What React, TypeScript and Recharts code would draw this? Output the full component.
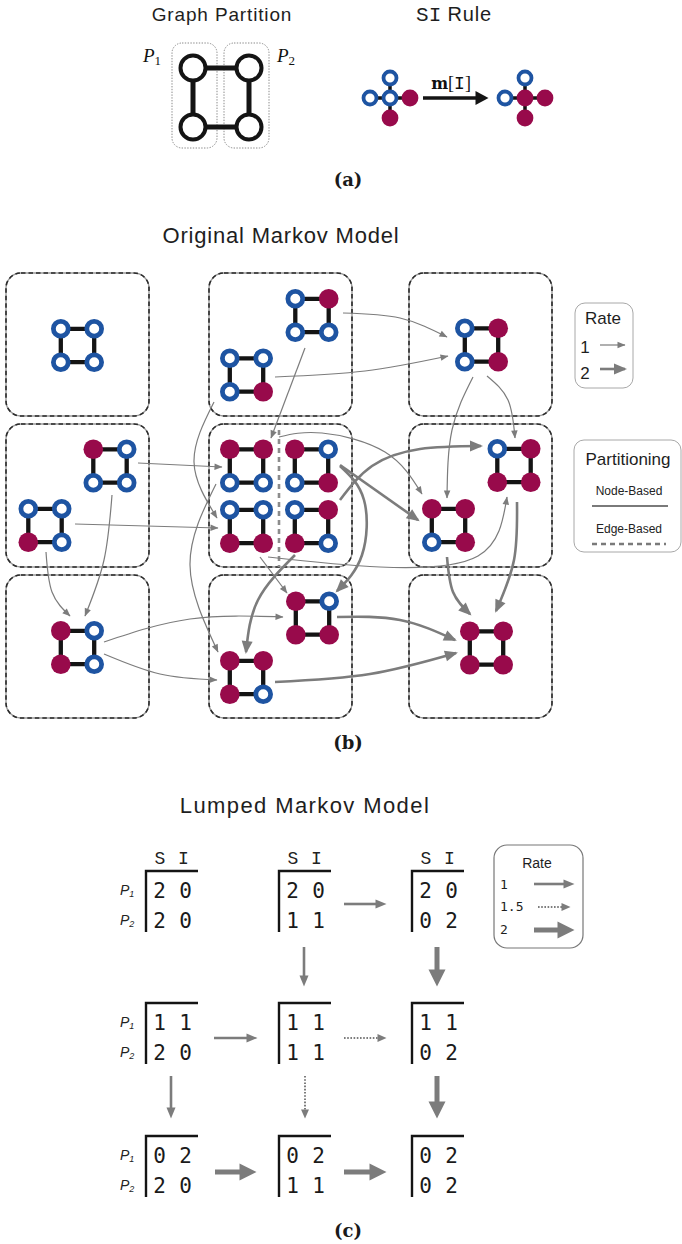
import React from "react";
import {
  ComposedChart,
  Line,
  ReferenceArea,
  ReferenceLine,
  Scatter,
  XAxis,
  YAxis,
} from "recharts";

const W = 682;
const H = 1244;

const BLUE = "#1e54a2";
const MAG = "#980a4b";
const GRAY = "#7c7c7c";
const INK = "#141414";
const SANS = "'Liberation Sans', Arial, sans-serif";
const MONO = "'Liberation Mono', 'Courier New', monospace";
const DIGIT = "'DejaVu Sans Mono', monospace";
const SERIF = "'Liberation Serif', 'Times New Roman', serif";
const BOLDSERIF = "'DejaVu Serif', serif";

// ---------- (a) graph partition and SI rule
const partitionFrames = [
  { x1: 172, x2: 217, y1: 43, y2: 148 },
  { x1: 224, x2: 269, y1: 43, y2: 148 },
];
const partitionGraph = [{ x: 221, y: 97.5 }];
// node order: centre, left, right, top, bottom
const ruleStars = [
  { x: 390, y: 98, s: "SSISI" },
  { x: 525, y: 98, s: "ISISI" },
];
const ruleArrow = [
  [423, 98],
  [476, 98],
];

// ---------- (b) original markov model
const boxCols = [
  [6, 149],
  [209, 352],
  [409, 552],
];
const boxRows = [
  [273, 416],
  [424, 567],
  [575, 718],
];
const edgeDivider = [
  { x: 279, y: 430 },
  { x: 279, y: 567 },
];
// node order: top-left, top-right, bottom-left, bottom-right
const states = [
  { x: 77.5, y: 345.5, s: "SSSS" },
  { x: 312, y: 315.5, s: "SISS" },
  { x: 246.5, y: 375, s: "SSSI" },
  { x: 481.5, y: 345, s: "SISI" },
  { x: 110, y: 466, s: "ISSS" },
  { x: 45, y: 525.5, s: "SSIS" },
  { x: 246.5, y: 466, s: "IISS" },
  { x: 311.5, y: 466, s: "ISSI" },
  { x: 246.5, y: 526.5, s: "SSII" },
  { x: 311.5, y: 526.5, s: "SIIS" },
  { x: 514, y: 465.5, s: "SIII" },
  { x: 448.5, y: 525.5, s: "IISI" },
  { x: 77.5, y: 647.5, s: "ISIS" },
  { x: 312.5, y: 618, s: "ISII" },
  { x: 246.5, y: 677.5, s: "IIIS" },
  { x: 486.5, y: 648, s: "IIII" },
];
// rate 1 or 2
const transitions = [
  { r: 1, pts: [[343, 313], [400, 318], [447, 337]] },
  { r: 1, pts: [[275, 377], [365, 371], [448, 356]] },
  { r: 1, pts: [[305, 348], [271, 438]] },
  { r: 1, pts: [[214, 402], [194, 462], [217, 518]] },
  { r: 1, pts: [[216, 484], [190, 565], [218, 652]] },
  { r: 1, pts: [[279, 437], [322, 433], [385, 452], [422, 494]] },
  { r: 1, pts: [[138, 463], [222, 467]] },
  { r: 1, pts: [[75, 524], [218, 528]] },
  { r: 1, pts: [[112, 495], [104, 560], [85, 616]] },
  { r: 1, pts: [[46, 552], [52, 592], [70, 616]] },
  { r: 1, pts: [[104, 642], [190, 619], [283, 617]] },
  { r: 1, pts: [[104, 654], [160, 674], [217, 680]] },
  { r: 2, pts: [[337, 617], [400, 620], [455, 640]] },
  { r: 2, pts: [[275, 682], [370, 674], [456, 653]] },
  { r: 2, pts: [[447, 557], [453, 592], [470, 614]] },
  { r: 2, pts: [[517, 502], [514, 560], [496, 611]] },
  { r: 1, pts: [[473, 377], [452, 430], [447, 498]] },
  { r: 1, pts: [[487, 376], [508, 400], [515, 438]] },
  { r: 2, pts: [[340, 465], [418, 520]] },
  { r: 2, pts: [[340, 466], [364, 500], [362, 555], [337, 591]] },
  { r: 2, pts: [[340, 500], [372, 466], [420, 449], [481, 446]] },
  { r: 2, pts: [[295, 555], [258, 600], [246, 652]] },
  { r: 1, pts: [[260, 557], [287, 593]] },
  { r: 1, pts: [[268, 557], [380, 567], [478, 556], [507, 497]] },
];
const rateSamplesB = [
  { r: 1, pts: [[600, 345], [625, 345]] },
  { r: 2, pts: [[600, 369], [625, 369]] },
];
const partitionSamples = [
  { kind: "node", pts: [[592, 506], [668, 506]] },
  { kind: "edge", pts: [[592, 544], [666, 544]] },
];

// ---------- (c) lumped markov model
const tableCols = [146, 279, 412];
const tableRows = [871, 1003, 1136];
const lumpedStates = [
  [[2, 0], [2, 0]],
  [[2, 0], [1, 1]],
  [[2, 0], [0, 2]],
  [[1, 1], [2, 0]],
  [[1, 1], [1, 1]],
  [[1, 1], [0, 2]],
  [[0, 2], [2, 0]],
  [[0, 2], [1, 1]],
  [[0, 2], [0, 2]],
];
const lumpedArrows = [
  { r: 1, pts: [[344, 904], [376, 904]] },
  { r: 1, pts: [[304, 947], [304, 976]] },
  { r: 2, pts: [[437, 947], [437, 970]] },
  { r: 1, pts: [[214, 1038], [247, 1038]] },
  { r: 1.5, pts: [[344, 1038], [378, 1038]] },
  { r: 1, pts: [[171, 1076], [171, 1108]] },
  { r: 1.5, pts: [[305, 1076], [305, 1110]] },
  { r: 2, pts: [[437, 1076], [437, 1102]] },
  { r: 2, pts: [[215, 1172], [240, 1172]] },
  { r: 2, pts: [[344, 1172], [370, 1172]] },
];
const rateSamplesC = [
  { r: 1, pts: [[534, 884], [564, 884]] },
  { r: 1.5, pts: [[538, 907], [562, 907]] },
  { r: 2, pts: [[534, 930], [558, 930]] },
];

const legendFrames = [
  { x1: 575, x2: 633, y1: 303, y2: 388, k: "b" },
  { x1: 574, x2: 681, y1: 440, y2: 552, k: "b" },
  { x1: 494, x2: 583, y1: 845, y2: 948, k: "c" },
];

const labels = [
  { x: 222, y: 21, t: "Graph Partition", k: "titleA" },
  { x: 454, y: 21, t: "SI Rule", k: "rule" },
  { x: 143, y: 62, t: "1", k: "pA" },
  { x: 277, y: 62, t: "2", k: "pA" },
  { x: 451, y: 89, t: "m[I]", k: "mI" },
  { x: 348, y: 186, t: "(a)", k: "panel" },
  { x: 281, y: 243, t: "Original Markov Model", k: "titleB" },
  { x: 603, y: 324, t: "Rate", k: "leg" },
  { x: 585, y: 353, t: "1", k: "legNum" },
  { x: 585, y: 379, t: "2", k: "legNum" },
  { x: 628, y: 465, t: "Partitioning", k: "leg" },
  { x: 629, y: 495, t: "Node-Based", k: "legSmall" },
  { x: 629, y: 533, t: "Edge-Based", k: "legSmall" },
  { x: 348, y: 749, t: "(b)", k: "panel" },
  { x: 305, y: 813, t: "Lumped Markov Model", k: "titleC" },
  { x: 537, y: 868, t: "Rate", k: "legC" },
  { x: 500, y: 889, t: "1", k: "legCNum" },
  { x: 500, y: 911, t: "1.5", k: "legCNum" },
  { x: 500, y: 934, t: "2", k: "legCNum" },
  { x: 348, y: 1237, t: "(c)", k: "panel" },
];

// ---------- helpers
const heads = [
  { id: "hb1", l: 8, w: 6.5, ref: 7.5, c: GRAY },
  { id: "hb2", l: 13, w: 11, ref: 11, c: GRAY },
  { id: "hc1", l: 11, w: 9, ref: 0.5, c: GRAY },
  { id: "hc15", l: 9, w: 8, ref: 0.5, c: GRAY },
  { id: "hc2", l: 17, w: 17, ref: 0.5, c: GRAY },
  { id: "ha", l: 13, w: 14, ref: 0.5, c: INK },
];

const toPts = (pts: number[][]) => pts.map(([x, y]) => ({ x, y }));

const tableData = lumpedStates.map((rows, i) => ({
  x: tableCols[i % 3],
  y: tableRows[Math.floor(i / 3)],
  rows,
  head: i < 3,
  side: i % 3 === 0,
}));

function Dot({ x, y, inf, r, ring }: any) {
  if (inf) return <circle cx={x} cy={y} r={r} fill={MAG} />;
  return <circle cx={x} cy={y} r={r - ring / 2} fill="#fff" stroke={BLUE} strokeWidth={ring} />;
}

function SquareGlyph(p: any) {
  const { cx, cy, payload } = p;
  const h = 16.7;
  const pos = [
    [-h, -h],
    [h, -h],
    [-h, h],
    [h, h],
  ];
  return (
    <g>
      <path
        d={`M${cx - h},${cy - h}H${cx + h}V${cy + h}H${cx - h}Z`}
        fill="none"
        stroke={INK}
        strokeWidth={4.3}
      />
      {pos.map(([dx, dy], i) => (
        <Dot key={i} x={cx + dx} y={cy + dy} inf={payload.s[i] === "I"} r={9.8} ring={4.8} />
      ))}
    </g>
  );
}

function StarGlyph(p: any) {
  const { cx, cy, payload } = p;
  const d = 20;
  const pos = [
    [0, 0],
    [-d, 0],
    [d, 0],
    [0, -d],
    [0, d],
  ];
  return (
    <g>
      <path
        d={`M${cx - d},${cy}H${cx + d}M${cx},${cy - d}V${cy + d}`}
        stroke={INK}
        strokeWidth={3.5}
      />
      {pos.map(([dx, dy], i) => (
        <Dot key={i} x={cx + dx} y={cy + dy} inf={payload.s[i] === "I"} r={8.4} ring={3.8} />
      ))}
    </g>
  );
}

function PartitionGlyph(p: any) {
  const { cx, cy } = p;
  const hx = 28;
  const hy = 29.5;
  const pos = [
    [-hx, -hy],
    [hx, -hy],
    [-hx, hy],
    [hx, hy],
  ];
  return (
    <g>
      <path
        d={`M${cx - hx},${cy - hy}H${cx + hx}V${cy + hy}H${cx - hx}Z`}
        fill="none"
        stroke={INK}
        strokeWidth={5}
      />
      {pos.map(([dx, dy], i) => (
        <circle key={i} cx={cx + dx} cy={cy + dy} r={12.5} fill="#fff" stroke={INK} strokeWidth={4} />
      ))}
    </g>
  );
}

function TableGlyph(p: any) {
  const { cx, cy, payload } = p;
  const rowY = [19, 49];
  return (
    <g>
      <path d={`M${cx},${cy + 61}V${cy}H${cx + 52}`} fill="none" stroke={INK} strokeWidth={2.4} />
      {payload.head && (
        <g fontFamily={MONO} fontSize={18} fill="#222" textAnchor="middle">
          <text x={cx + 14} y={cy - 7}>S</text>
          <text x={cx + 37.5} y={cy - 7}>I</text>
        </g>
      )}
      {payload.rows.map((row: number[], ri: number) => (
        <g key={ri} fontFamily={DIGIT} fontSize={21} fill="#1a1a1a" textAnchor="middle">
          <text x={cx + 13.5} y={cy + rowY[ri] + 7.5}>{row[0]}</text>
          <text x={cx + 39.5} y={cy + rowY[ri] + 7.5}>{row[1]}</text>
        </g>
      ))}
      {payload.side &&
        rowY.map((ry, ri) => (
          <text key={ri} x={cx - 26} y={cy + ry + 5} fontFamily={SANS} fontStyle="italic" fontSize={14} fill="#222">
            P
            <tspan fontSize={9} dy={2}>
              {ri + 1}
            </tspan>
          </text>
        ))}
    </g>
  );
}

function Label(p: any) {
  const { cx, cy, payload } = p;
  const { t, k } = payload;
  switch (k) {
    case "titleA":
      return (
        <text x={cx} y={cy} textAnchor="middle" fontFamily={SANS} fontSize={19} letterSpacing={0.85} fill="#1e1e1e">
          {t}
        </text>
      );
    case "titleB":
      return (
        <text x={cx} y={cy} textAnchor="middle" fontFamily={SANS} fontSize={22} letterSpacing={0.8} fill="#1e1e1e">
          {t}
        </text>
      );
    case "titleC":
      return (
        <text x={cx} y={cy} textAnchor="middle" fontFamily={SANS} fontSize={22} letterSpacing={1.4} fill="#1e1e1e">
          {t}
        </text>
      );
    case "rule":
      return (
        <text x={cx} y={cy} textAnchor="middle" fontSize={20} fill="#1e1e1e">
          <tspan fontFamily={MONO} fontSize={21}>
            {t.slice(0, 2)}
          </tspan>
          <tspan fontFamily={SANS} letterSpacing={0.8}>
            {t.slice(2)}
          </tspan>
        </text>
      );
    case "pA":
      return (
        <text x={cx} y={cy} fontFamily={SERIF} fontSize={19} fill="#111">
          <tspan fontStyle="italic">P</tspan>
          <tspan fontSize={13} dy={3}>
            {t}
          </tspan>
        </text>
      );
    case "mI":
      return (
        <text x={cx} y={cy} textAnchor="middle" fontFamily={SERIF} fontSize={18} fill="#111">
          <tspan fontFamily={BOLDSERIF} fontWeight="bold" fontSize={16}>
            m
          </tspan>
          <tspan>[</tspan>
          <tspan fontFamily={MONO}>I</tspan>
          <tspan>]</tspan>
        </text>
      );
    case "panel":
      return (
        <text x={cx} y={cy} textAnchor="middle" fontFamily={BOLDSERIF} fontWeight="bold" fontSize={18} fill="#1a1a1a">
          {t}
        </text>
      );
    case "leg":
      return (
        <text x={cx} y={cy} textAnchor="middle" fontFamily={SANS} fontSize={17} fill="#1e1e1e">
          {t}
        </text>
      );
    case "legNum":
      return (
        <text x={cx} y={cy} textAnchor="middle" fontFamily={SANS} fontSize={17} fill="#1e1e1e">
          {t}
        </text>
      );
    case "legSmall":
      return (
        <text x={cx} y={cy} textAnchor="middle" fontFamily={SANS} fontSize={12} fill="#222">
          {t}
        </text>
      );
    case "legC":
      return (
        <text x={cx} y={cy} textAnchor="middle" fontFamily={SANS} fontSize={14} fill="#1e1e1e">
          {t}
        </text>
      );
    case "legCNum":
      return (
        <text x={cx} y={cy} fontFamily={DIGIT} fontSize={13} fill="#1e1e1e">
          {t}
        </text>
      );
    default:
      return <g />;
  }
}

const MarkovFrame = (p: any) => (
  <g>
    <rect x={p.x} y={p.y} width={p.width} height={p.height} rx={15} fill="none" stroke="#9a9a9a" strokeWidth={1.4} />
    <rect
      x={p.x}
      y={p.y}
      width={p.width}
      height={p.height}
      rx={15}
      fill="none"
      stroke="#2a2a2a"
      strokeWidth={1.6}
      strokeDasharray="4.5 3"
    />
  </g>
);

const DottedFrame = (p: any) => (
  <rect
    x={p.x}
    y={p.y}
    width={p.width}
    height={p.height}
    rx={10}
    fill="none"
    stroke="#8a8a8a"
    strokeWidth={1}
    strokeDasharray="1.4 1.4"
  />
);

const LegendFrame = (p: any) => (
  <rect
    x={p.x}
    y={p.y}
    width={p.width}
    height={p.height}
    rx={p.k === "c" ? 13 : 10}
    fill="#fff"
    stroke={p.k === "c" ? "#777" : "#a8a8a8"}
    strokeWidth={p.k === "c" ? 1.2 : 1}
  />
);

const bStyle = (r: number) =>
  r === 2
    ? { strokeWidth: 2.6, markerEnd: "url(#hb2)" }
    : { strokeWidth: 1.2, markerEnd: "url(#hb1)" };

const cStyle = (r: number) =>
  r === 2
    ? { strokeWidth: 5, markerEnd: "url(#hc2)" }
    : r === 1.5
      ? { strokeWidth: 2, markerEnd: "url(#hc15)", strokeDasharray: "1.6 1.6" }
      : { strokeWidth: 2.6, markerEnd: "url(#hc1)" };

export default function App() {
  return (
    <div style={{ width: W, height: H, position: "relative", background: "#fff" }}>
      <style>{"body{margin:0;background:#fff}"}</style>
      <svg width={0} height={0} style={{ position: "absolute" }}>
        <defs>
          {heads.map((m) => (
            <marker
              key={m.id}
              id={m.id}
              markerUnits="userSpaceOnUse"
              markerWidth={m.l}
              markerHeight={m.w}
              refX={m.ref}
              refY={m.w / 2}
              orient="auto"
              overflow="visible"
            >
              <path d={`M0,0L${m.l},${m.w / 2}L0,${m.w}Z`} fill={m.c} />
            </marker>
          ))}
        </defs>
      </svg>
      <ComposedChart width={W} height={H} margin={{ top: 0, right: 0, bottom: 0, left: 0 }}>
        <XAxis type="number" dataKey="x" domain={[0, W]} allowDataOverflow hide />
        <YAxis type="number" dataKey="y" domain={[0, H]} allowDataOverflow reversed hide />

        {partitionFrames.map((f, i) => (
          <ReferenceArea key={`pf${i}`} x1={f.x1} x2={f.x2} y1={f.y1} y2={f.y2} shape={DottedFrame} />
        ))}
        {boxCols.flatMap((c, i) =>
          boxRows.map((r, j) => (
            <ReferenceArea key={`mb${i}${j}`} x1={c[0]} x2={c[1]} y1={r[0]} y2={r[1]} shape={MarkovFrame} />
          )),
        )}
        {legendFrames.map((f, i) => (
          <ReferenceArea
            key={`lf${i}`}
            x1={f.x1}
            x2={f.x2}
            y1={f.y1}
            y2={f.y2}
            shape={(p: any) => <LegendFrame {...p} k={f.k} />}
          />
        ))}
        <ReferenceLine
          segment={edgeDivider}
          stroke="#8c8c8c"
          strokeWidth={2.6}
          strokeDasharray="5 4"
        />

        <Scatter data={partitionGraph} dataKey="y" shape={PartitionGlyph} isAnimationActive={false} />
        <Scatter data={ruleStars} dataKey="y" shape={StarGlyph} isAnimationActive={false} />
        <Line
          data={toPts(ruleArrow)}
          dataKey="y"
          type="linear"
          stroke={INK}
          strokeWidth={3.5}
          markerEnd="url(#ha)"
          dot={false}
          activeDot={false}
          isAnimationActive={false}
        />

        <Scatter data={states} dataKey="y" shape={SquareGlyph} isAnimationActive={false} />

        {transitions.map((e, i) => (
          <Line
            key={`t${i}`}
            data={toPts(e.pts)}
            dataKey="y"
            type="natural"
            stroke={GRAY}
            fill="none"
            {...bStyle(e.r)}
            dot={false}
            activeDot={false}
            isAnimationActive={false}
          />
        ))}
        {rateSamplesB.map((e, i) => (
          <Line
            key={`rb${i}`}
            data={toPts(e.pts)}
            dataKey="y"
            type="linear"
            stroke={GRAY}
            {...bStyle(e.r)}
            dot={false}
            activeDot={false}
            isAnimationActive={false}
          />
        ))}
        {partitionSamples.map((e, i) => (
          <Line
            key={`ps${i}`}
            data={toPts(e.pts)}
            dataKey="y"
            type="linear"
            stroke="#7a7a7a"
            strokeWidth={e.kind === "edge" ? 2.6 : 2}
            strokeDasharray={e.kind === "edge" ? "5 4" : undefined}
            dot={false}
            activeDot={false}
            isAnimationActive={false}
          />
        ))}

        <Scatter data={tableData} dataKey="y" shape={TableGlyph} isAnimationActive={false} />
        {[...lumpedArrows, ...rateSamplesC].map((e, i) => (
          <Line
            key={`c${i}`}
            data={toPts(e.pts)}
            dataKey="y"
            type="linear"
            stroke={GRAY}
            {...cStyle(e.r)}
            dot={false}
            activeDot={false}
            isAnimationActive={false}
          />
        ))}

        <Scatter data={labels} dataKey="y" shape={Label} isAnimationActive={false} />
      </ComposedChart>
    </div>
  );
}
